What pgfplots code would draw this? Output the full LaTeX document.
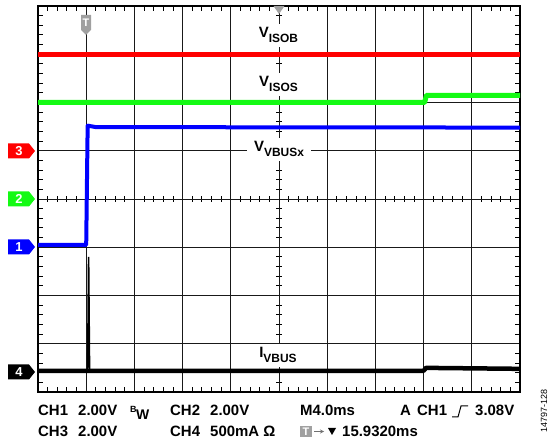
\documentclass[border=0pt]{standalone}
\usepackage{fontspec}
\setmainfont{Liberation Sans}
\usepackage{pgfplots}
\pgfplotsset{compat=1.18}
\definecolor{scred}{RGB}{255,0,0}
\definecolor{scgreen}{RGB}{20,250,20}
\definecolor{scblue}{RGB}{0,0,255}
\definecolor{scgray}{RGB}{160,160,160}

\newcommand{\lbl}[2]{{\fontsize{15}{15}\selectfont #1}\raisebox{-4.5bp}{\fontsize{12}{12}\selectfont #2}}
\newcommand{\txt}{\fontsize{15}{15}\selectfont\bfseries}

\begin{document}
\begin{tikzpicture}[x=1bp,y=1bp]
\path[use as bounding box] (0,0) rectangle (550,444);

% centre graticule lines with their small ticks
\begin{axis}[
at={(38bp,52bp)}, anchor=south west,
width=482bp, height=386bp, scale only axis,
xmin=-5, xmax=5, ymin=-4, ymax=4,
axis lines=middle,
axis line style={-, line width=0.9bp, black},
xtick={-5,...,5}, ytick={-4,...,4},
xticklabels={}, yticklabels={},
minor x tick num=4, minor y tick num=4,
major tick length=0pt, minor tick length=6bp,
tick align=center,
tick style={line width=0.9bp, black},
]
\end{axis}

\begin{axis}[
at={(38bp,52bp)}, anchor=south west,
width=482bp, height=386bp, scale only axis,
xmin=0, xmax=10, ymin=-4, ymax=4,
xtick={0,...,10}, ytick={-4,...,4},
xticklabels={}, yticklabels={},
minor x tick num=4, minor y tick num=4,
xtick pos=both, ytick pos=both,
tick align=inside,
major tick length=0pt, minor tick length=5bp,
tick style={line width=0.9bp, black},
xmajorgrids, ymajorgrids,
major grid style={line width=0.9bp, black!90},
axis line style={line width=2bp, black},
]
% CH3 V_ISOB
\addplot[scred, line width=5bp] coordinates {
(0,3.0) (10,3.0)
};
% CH2 V_ISOS
\addplot[scgreen, line width=5bp, line join=round] coordinates {
(0,2.0) (8.02,2.0) (8.06,2.15) (10,2.15)
};
% CH1 V_VBUSx
\addplot[scblue, line width=4bp, line join=round] coordinates {
(0,-0.95) (1.0,-0.95) (1.03,1.52) (1.2,1.49) (10,1.48)
};
% CH4 I_VBUS
\addplot[black, line width=4.5bp, line join=round] coordinates {
(0,-3.56) (8.0,-3.56) (8.05,-3.5) (10,-3.52)
};
\addplot[black, line width=1.6bp] coordinates {
(1.03,-3.56) (1.05,-1.2) (1.07,-3.56)
};
\end{axis}

% trace labels
\node[fill=white, inner xsep=7bp, inner ysep=4bp, anchor=base] at (278.5,406) {\bfseries\lbl{V}{ISOB}};
\node[fill=white, inner xsep=7bp, inner ysep=4bp, anchor=base] at (278.5,357) {\bfseries\lbl{V}{ISOS}};
\node[fill=white, inner xsep=7bp, inner ysep=4bp, anchor=base] at (279,292) {\bfseries\lbl{V}{VBUSx}};
\node[fill=white, inner xsep=7bp, inner ysep=4bp, anchor=base] at (278,86) {\bfseries\lbl{I}{VBUS}};

% channel ground markers
\fill[scred] (8,300.5) -- (29,300.5) -- (35,293) -- (29,285.5) -- (8,285.5) -- cycle;
\node[white, font=\fontsize{13}{13}\selectfont\bfseries] at (19,293) {3};
\fill[scgreen] (8,252.5) -- (29,252.5) -- (35,245) -- (29,237.5) -- (8,237.5) -- cycle;
\node[white, font=\fontsize{13}{13}\selectfont\bfseries] at (19,245) {2};
\fill[scblue] (8,204.5) -- (29,204.5) -- (35,197) -- (29,189.5) -- (8,189.5) -- cycle;
\node[white, font=\fontsize{13}{13}\selectfont\bfseries] at (19,197) {1};
\fill[black] (8,79.5) -- (29,79.5) -- (35,72) -- (29,64.5) -- (8,64.5) -- cycle;
\node[white, font=\fontsize{13}{13}\selectfont\bfseries] at (19,72) {4};

% trigger markers
\fill[scgray] (81,429) -- (91,429) -- (91,414) -- (86,409) -- (81,414) -- cycle;
\node[white, font=\fontsize{11}{11}\selectfont\bfseries] at (86,421) {T};
\fill[scgray] (273.5,438) -- (284.5,438) -- (279,430) -- cycle;

% scope settings
\begin{scope}[every node/.style={anchor=base west, inner sep=0pt, font=\txt}]
\node at (38,28) {CH1};
\node at (78,28) {2.00V};
\node[font=\fontsize{9}{9}\selectfont\bfseries] at (130,31) {B};
\node[font=\fontsize{14}{14}\selectfont\bfseries] at (136,24) {W};
\node at (170,28) {CH2};
\node at (210,28) {2.00V};
\node at (300,28) {M4.0ms};
\node at (400,28) {A};
\node at (417,28) {CH1};
\node at (475,28) {3.08V};
\node at (38,7) {CH3};
\node at (78,7) {2.00V};
\node at (170,7) {CH4};
\node at (210,7) {500mA Ω};
\node at (342,7) {15.9320ms};
\end{scope}
\draw[line width=1bp] (452,27) -- (458,27) -- (461,38) -- (468,38);
\fill[scgray] (300,7) rectangle (312,18);
\node[white, font=\fontsize{11}{11}\selectfont\bfseries] at (306,12.5) {T};
\draw[scgray!70!black, line width=0.8bp, -stealth] (314,12.5) -- (324,12.5);
\fill[black] (328,16) -- (336,16) -- (332,9) -- cycle;

\node[rotate=90, font=\fontsize{9}{9}\selectfont, inner sep=0pt] at (544,33) {14797-128};
\end{tikzpicture}
\end{document}
